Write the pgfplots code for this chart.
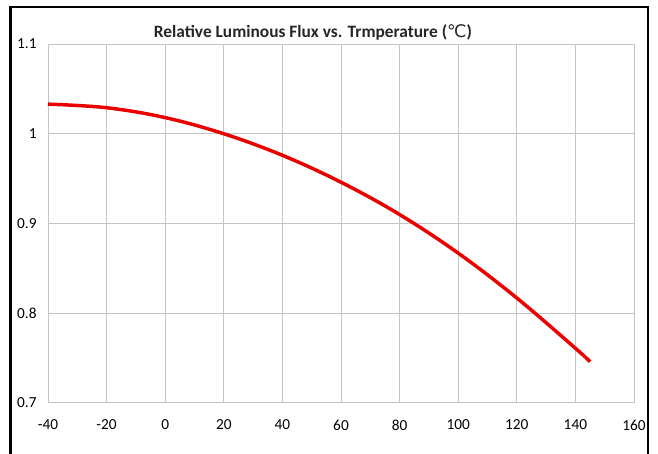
\documentclass[border=0pt]{standalone}
\usepackage{fontspec}
\setmainfont{Carlito}
\newfontfamily\dejavu{DejaVu Sans}
\usepackage{pgfplots}
\pgfplotsset{compat=1.18}
\definecolor{gridgray}{RGB}{196,196,196}
\definecolor{curvered}{RGB}{235,0,0}
\begin{document}
\begin{tikzpicture}
\useasboundingbox (0,0) rectangle (493.5pt,340.5pt);
\fill[white] (0,0) rectangle (493.5pt,340.5pt);
\draw[black, line width=1.6pt] (7.9pt,-10pt) -- (7.9pt,335.2pt) -- (486pt,335.2pt) -- (486pt,-10pt);
\begin{axis}[
  at={(36pt,38.25pt)}, anchor=south west,
  scale only axis, width=439.5pt, height=269.25pt,
  xmin=-40, xmax=160, ymin=0.7, ymax=1.1,
  xtick={-40,-20,0,20,40,60,80,100,120,140,160},
  xticklabels={-40,-20,0,20,40,60,80,100,120,140,160},
  ytick={0.7,0.8,0.9,1,1.1},
  yticklabels={0.7,0.8,0.9,1,1.1},
  grid=major,
  major grid style={gridgray, line width=0.75pt},
  axis line style={gridgray, line width=0.75pt},
  major tick length=0pt,
  tick label style={font=\fontsize{11.5}{13}\selectfont, text=black},
  xticklabel style={yshift=-9pt},
  yticklabel style={xshift=-5pt},
  clip=false,
]
\addplot[curvered, line width=2.6pt, smooth, tension=0.6] coordinates {
  (-40,1.033) (-20,1.029) (0,1.018) (20,1.000) (40,0.976) (60,0.946)
  (80,0.910) (100,0.867) (120,0.817) (140,0.761) (145,0.746)
};
\end{axis}
\node[font=\fontsize{13}{15}\selectfont\bfseries, text=black!85] at (234.75pt,316.5pt)
  {Relative Luminous Flux vs. Trmperature ({\dejavu\mdseries ℃})};
\end{tikzpicture}
\end{document}
